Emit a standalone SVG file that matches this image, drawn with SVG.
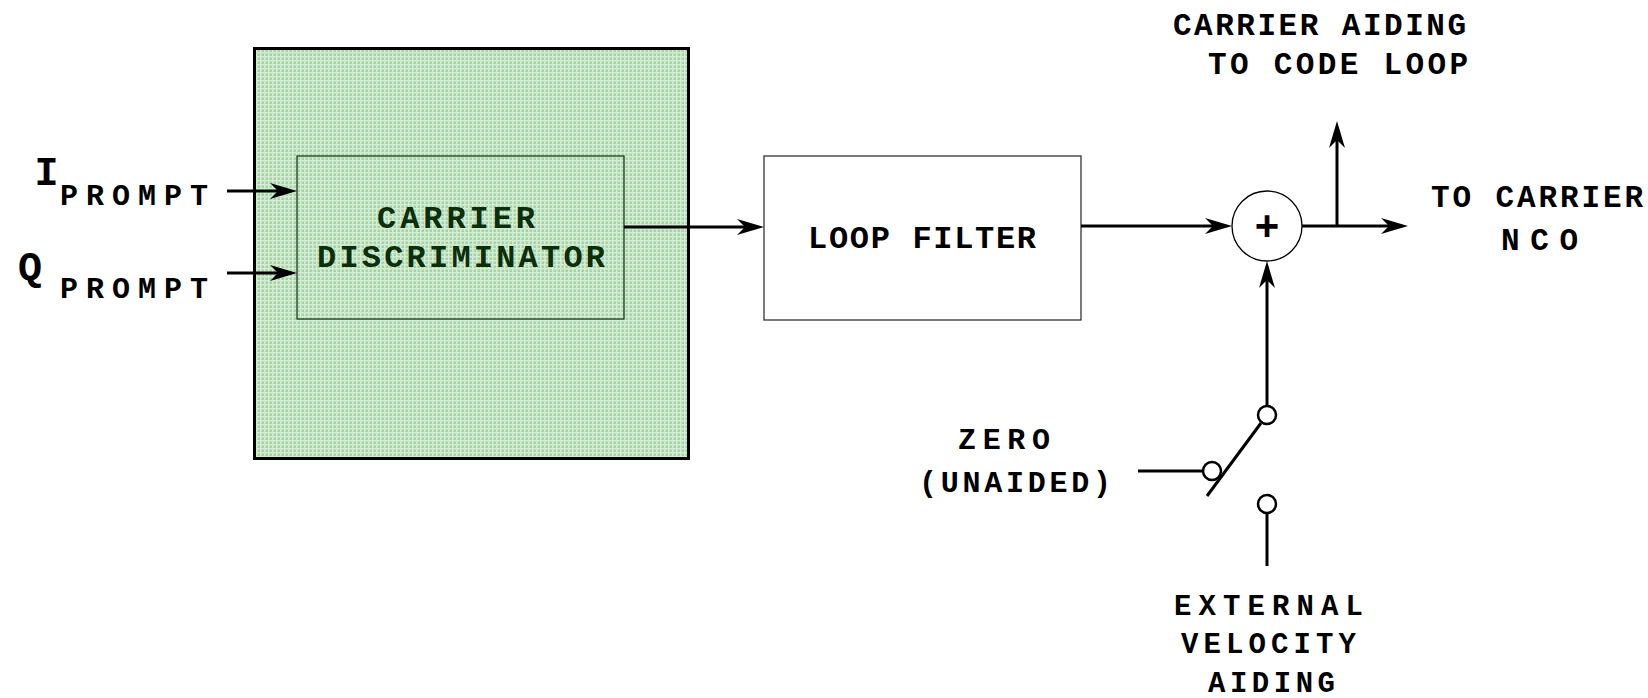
<svg xmlns="http://www.w3.org/2000/svg" width="1648" height="698" viewBox="0 0 1648 698">
  <style>
    .lbl { font-family: "Liberation Mono", "DejaVu Sans Mono", monospace; font-weight: bold; fill: #000; }
    .dark { fill: #0b2e0b; }
    .wire { stroke: #000; stroke-width: 3; fill: none; }
    .arrow { marker-end: url(#head); }
    .contact { fill: #fff; stroke: #000; stroke-width: 2.5; }
  </style>
  <defs>
    <!-- fine green check used for the discriminator block -->
    <pattern id="check" width="4" height="4" patternUnits="userSpaceOnUse">
      <rect width="4" height="4" fill="#a3d5a3"/>
      <rect width="4" height="1.5" fill="#d4ecd4"/>
      <rect width="1.5" height="4" fill="#d4ecd4"/>
    </pattern>
    <!-- barbed arrowhead; tip sits 15px beyond the line end -->
    <marker id="head" markerUnits="userSpaceOnUse" viewBox="-13 -9 29 18" markerWidth="29" markerHeight="18" refX="0" refY="0" orient="auto" overflow="visible">
      <path d="M15,0 L-12,-8 L-4,0 L-12,8 Z" fill="#000"/>
    </marker>
  </defs>

  <rect width="1648" height="698" fill="#fff"/>

  <!-- tracking loop block (shaded) -->
  <g id="loop-block">
    <rect x="254.5" y="48.5" width="434" height="410" fill="url(#check)" stroke="#000" stroke-width="3"/>
  </g>

  <g id="discriminator">
    <rect x="297" y="156" width="327" height="163" fill="none" stroke="#1e3a1e" stroke-width="1.3"/>
    <text class="lbl dark" x="377" y="228" font-size="32" textLength="158" lengthAdjust="spacing">CARRIER</text>
    <text class="lbl dark" x="317" y="267" font-size="32" textLength="288" lengthAdjust="spacing">DISCRIMINATOR</text>
  </g>

  <g id="loop-filter">
    <rect x="764" y="156" width="317" height="164" fill="#fff" stroke="#333" stroke-width="1.3"/>
    <text class="lbl" x="808" y="248" font-size="32" textLength="228" lengthAdjust="spacing">LOOP FILTER</text>
  </g>

  <g id="summer">
    <circle cx="1267" cy="226" r="35" fill="#fff" stroke="#000" stroke-width="1.3"/>
    <text x="1267" y="240" font-family="Liberation Sans, Arial, sans-serif" font-weight="bold" font-size="42" text-anchor="middle">+</text>
  </g>

  <g id="inputs">
    <text class="lbl" x="46.5" y="185" font-size="40" text-anchor="middle">I</text>
    <text class="lbl" x="60" y="205" font-size="30" textLength="148" lengthAdjust="spacing">PROMPT</text>
    <text class="lbl" x="30" y="280" font-size="40" text-anchor="middle">Q</text>
    <text class="lbl" x="60" y="298" font-size="30" textLength="148" lengthAdjust="spacing">PROMPT</text>
  </g>

  <g id="outputs">
    <text class="lbl" x="1173" y="35" font-size="31" textLength="293" lengthAdjust="spacing">CARRIER AIDING</text>
    <text class="lbl" x="1208" y="74" font-size="31" textLength="260" lengthAdjust="spacing">TO CODE LOOP</text>
    <text class="lbl" x="1431" y="207" font-size="31" textLength="212" lengthAdjust="spacing">TO CARRIER</text>
    <text class="lbl" x="1501" y="250" font-size="31" textLength="77" lengthAdjust="spacing">NCO</text>
  </g>

  <g id="aiding-switch">
    <text class="lbl" x="958" y="449" font-size="30" textLength="92" lengthAdjust="spacing">ZERO</text>
    <text class="lbl" x="919" y="492" font-size="30" textLength="192" lengthAdjust="spacing">(UNAIDED)</text>
    <text class="lbl" x="1174" y="615" font-size="29" textLength="189" lengthAdjust="spacing">EXTERNAL</text>
    <text class="lbl" x="1181" y="653" font-size="29" textLength="175" lengthAdjust="spacing">VELOCITY</text>
    <text class="lbl" x="1208" y="692" font-size="29" textLength="127" lengthAdjust="spacing">AIDING</text>
    <line class="wire" x1="1207" y1="496" x2="1261" y2="423" stroke-width="2.5"/>
    <circle class="contact" cx="1267" cy="415" r="9"/>
    <circle class="contact" cx="1212" cy="471" r="9"/>
    <circle class="contact" cx="1267" cy="504" r="9"/>
  </g>

  <g id="connectors">
    <line class="wire arrow" x1="227" y1="191" x2="282" y2="191"/>
    <line class="wire arrow" x1="227" y1="273" x2="282" y2="273"/>
    <line class="wire arrow" x1="624" y1="227" x2="749" y2="227"/>
    <line class="wire arrow" x1="1081" y1="226" x2="1217" y2="226"/>
    <line class="wire arrow" x1="1302" y1="226" x2="1393" y2="226"/>
    <line class="wire arrow" x1="1337" y1="227" x2="1337" y2="136"/>
    <line class="wire arrow" x1="1267" y1="406" x2="1267" y2="276"/>
    <line class="wire" x1="1138" y1="471" x2="1203" y2="471" stroke-width="2.5"/>
    <line class="wire" x1="1267" y1="513" x2="1267" y2="566" stroke-width="2.5"/>
  </g>
</svg>
